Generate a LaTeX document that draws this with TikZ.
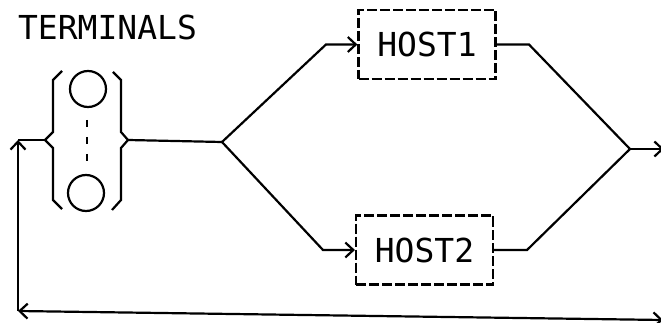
\documentclass[tikz,border=0pt]{standalone}
\usepackage{fontspec}
\setmonofont{DejaVu Sans Mono}
\usetikzlibrary{arrows.meta}

\tikzset{
  hostbox/.style={draw, dash pattern=on 10pt off 3pt, minimum width=137pt, minimum height=69pt, inner sep=0pt,
    font=\fontsize{33}{33}\selectfont\ttfamily},
  termcircle/.style={draw, circle, minimum size=36pt, inner sep=0pt}
}

\begin{document}
\begin{tikzpicture}[x=1pt,y=-1pt,line width=2.2pt,>={Straight Barb[length=8pt,width=15pt]}]
\useasboundingbox (0,0) rectangle (661,323);

% Label
\node[anchor=base west,inner sep=0pt,font=\fontsize{33}{33}\selectfont\ttfamily] (label) at (17,40) {TERMINALS};

% Terminal group
\node[termcircle] (term1) at (88,89) {};
\node[termcircle] (term2) at (86,193) {};
\draw[dash pattern=on 7pt off 10pt] (87,120) -- (87,162);
\draw (62,71) -- (53,80) -- (53,132) -- (45,140) -- (53,148) -- (53,200) -- (62,209);
\draw (113,72) -- (121,80) -- (121,132) -- (128,140) -- (121,148) -- (121,200) -- (112,210);
\coordinate (lbrace) at (45,140);
\coordinate (rbrace) at (128,140);

% Hosts
\node[hostbox] (host1) at (427,44.5) {HOST1};
\node[hostbox] (host2) at (424.5,250) {HOST2};

% Fork and join
\coordinate (fork) at (222,142);
\coordinate (join) at (630,149);
\coordinate (out) at (664,149);
\draw (rbrace) -- (fork);
\draw[->] (fork) -- (326,44.5) -- (host1.west);
\draw[->] (fork) -- (323,250) -- (host2.west);
\draw (host1.east) -- (529,44.5) -- (join);
\draw (host2.east) -- (527,250) -- (join);
\draw[->] (join) -- (out);

% Return path
\coordinate (corner) at (18,311);
\coordinate (up) at (18,140);
\coordinate (back) at (663,320);
\draw[<->] (corner) -- (back);
\draw[->] (corner) -- (up);
\draw (up) -- (lbrace);

\end{tikzpicture}
\end{document}
